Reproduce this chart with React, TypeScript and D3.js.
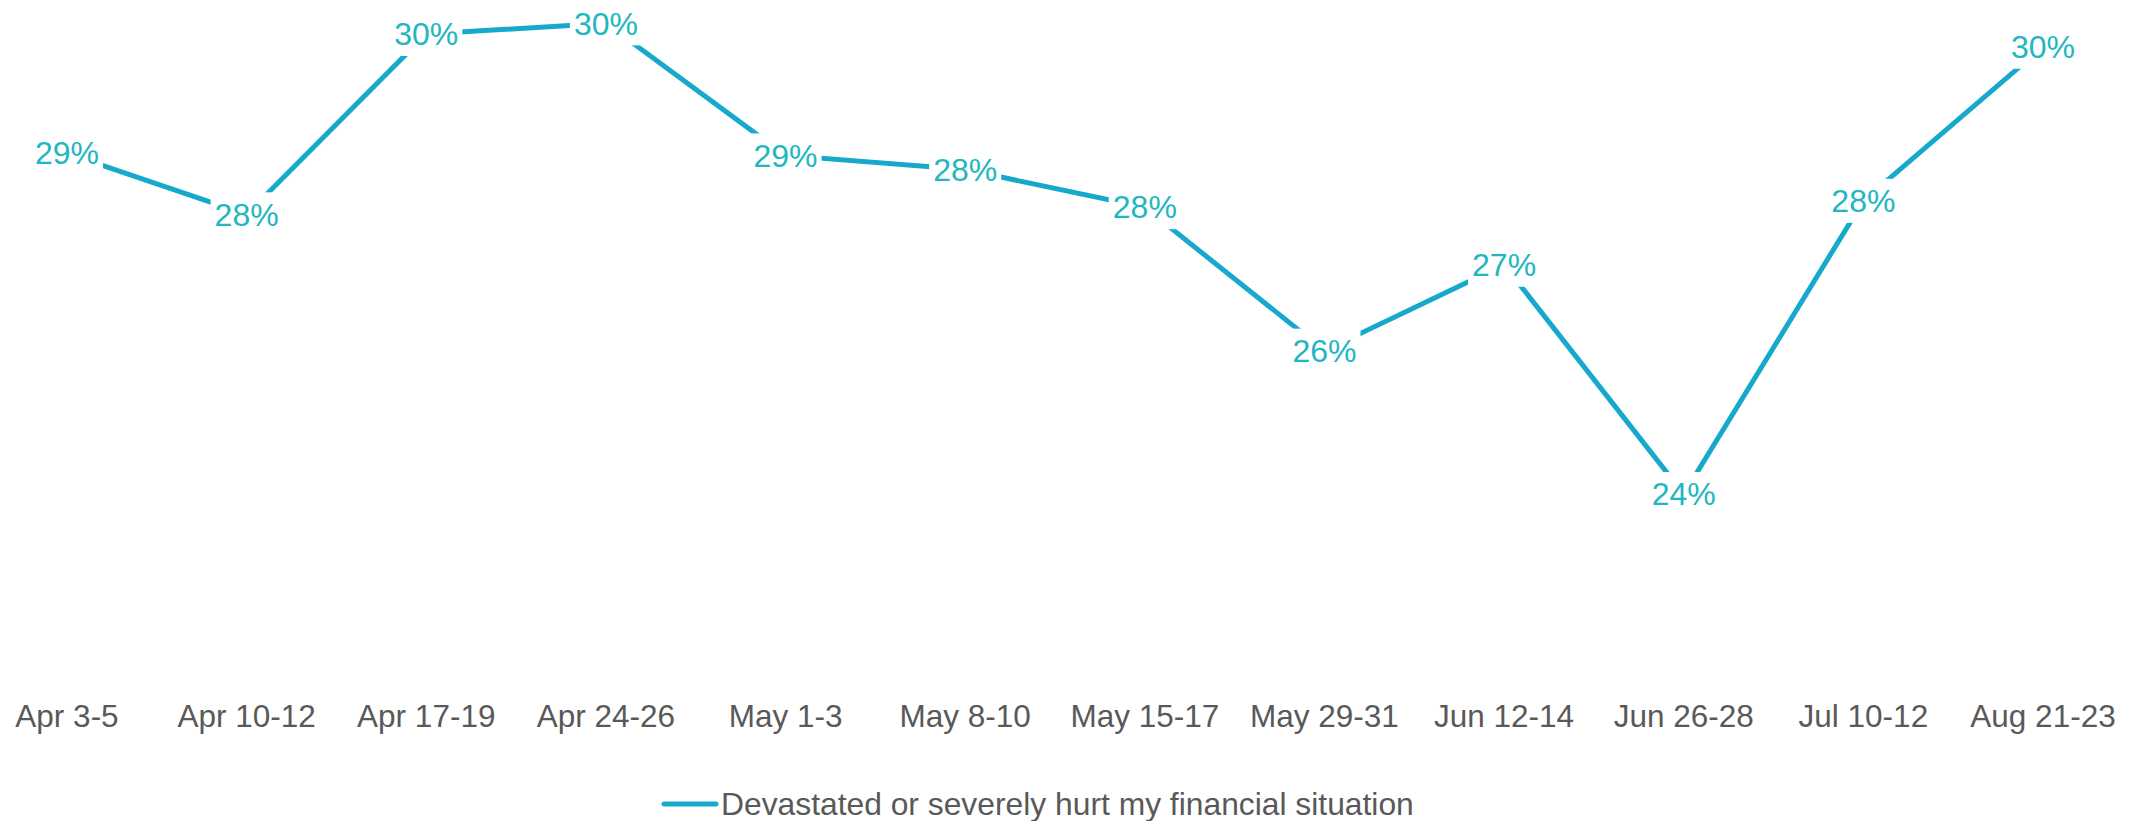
import { useEffect, useRef } from "react";
import * as d3 from "d3";

const categories = [
  "Apr 3-5", "Apr 10-12", "Apr 17-19", "Apr 24-26", "May 1-3", "May 8-10",
  "May 15-17", "May 29-31", "Jun 12-14", "Jun 26-28", "Jul 10-12", "Aug 21-23",
];
const values = [28.63, 27.77, 30.31, 30.46, 28.6, 28.4, 27.87, 25.85, 27.06, 23.83, 27.96, 30.13];
const labels = ["29%", "28%", "30%", "30%", "29%", "28%", "28%", "26%", "27%", "24%", "28%", "30%"];
const seriesName = "Devastated or severely hurt my financial situation";

const width = 2141;
const height = 821;

export default function App() {
  const svgRef = useRef<SVGSVGElement>(null);

  useEffect(() => {
    document.body.style.margin = "0";
    if (!svgRef.current) return;
    const svg = d3.select(svgRef.current);
    svg.selectAll("*").remove();

    const font = "'Liberation Sans', Arial, sans-serif";
    const lineColor = "#17a9cc";
    const labelColor = "#22b6c0";
    const axisColor = "#595959";

    const x = d3.scalePoint<string>().domain(categories).range([67, 2043]);
    // y positions fitted so the data labels land where the reference puts them
    const y = d3.scaleLinear().domain([23, 30.5]).range([553, 20.5]);

    const pts = categories.map((c, i) => ({ c, v: values[i], label: labels[i] }));

    const line = d3.line<{ c: string; v: number }>()
      .x(d => x(d.c) as number)
      .y(d => y(d.v));

    svg.append("path")
      .datum(pts)
      .attr("fill", "none")
      .attr("stroke", lineColor)
      .attr("stroke-width", 5)
      .attr("d", line);

    // data labels with white boxes that cut the line
    const lbl = svg.append("g").selectAll("g").data(pts).join("g")
      .attr("transform", d => `translate(${x(d.c)},${y(d.v)})`);
    const txt = lbl.append("text")
      .attr("text-anchor", "middle")
      .attr("dy", "0.35em")
      .attr("font-family", font)
      .attr("font-size", 32)
      .attr("fill", labelColor)
      .text(d => d.label);
    txt.each(function () {
      const bb = (this as SVGTextElement).getBBox();
      d3.select((this as SVGTextElement).parentNode as SVGGElement)
        .insert("rect", "text")
        .attr("x", bb.x - 4)
        .attr("y", -22)
        .attr("width", bb.width + 8)
        .attr("height", 44)
        .attr("fill", "#ffffff");
    });

    // category axis labels
    svg.append("g").selectAll("text").data(categories).join("text")
      .attr("x", d => x(d) as number)
      .attr("y", 727)
      .attr("text-anchor", "middle")
      .attr("font-family", font)
      .attr("font-size", 31.5)
      .attr("fill", axisColor)
      .text(d => d);

    // legend
    const legend = svg.append("g").attr("transform", "translate(664,804)");
    legend.append("line")
      .attr("x1", 0).attr("x2", 52)
      .attr("y1", 0).attr("y2", 0)
      .attr("stroke", lineColor)
      .attr("stroke-width", 5)
      .attr("stroke-linecap", "round");
    legend.append("text")
      .attr("x", 57)
      .attr("y", 0)
      .attr("dy", "0.35em")
      .attr("font-family", font)
      .attr("font-size", 31.8)
      .attr("fill", axisColor)
      .text(seriesName);
  }, []);

  return <svg ref={svgRef} width={width} height={height} viewBox={`0 0 ${width} ${height}`} style={{ display: "block" }} />;
}
